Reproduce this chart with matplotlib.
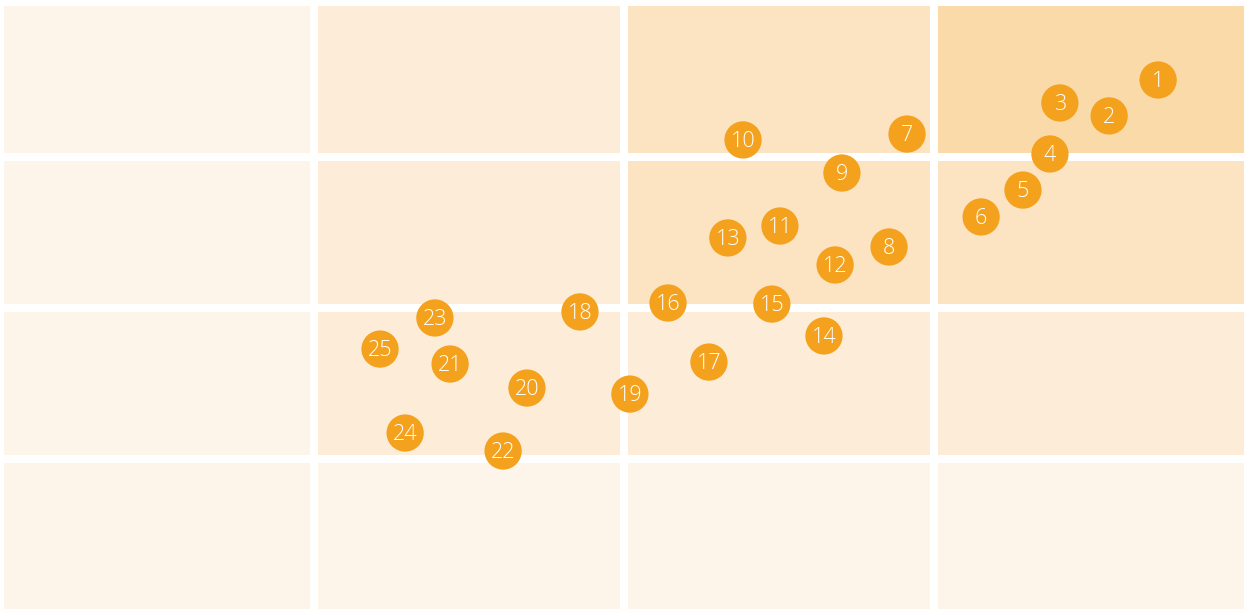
import matplotlib
matplotlib.use('Agg')
import matplotlib.pyplot as plt
from matplotlib.patches import Rectangle

# cell shade levels, top row first
levels = [[0, 1, 2, 3],
          [0, 1, 2, 2],
          [0, 1, 1, 1],
          [0, 0, 0, 0]]
shades = ['#fef5ea', '#fdecd8', '#fce3c2', '#fadaa8']

# points (x, y) in grid units, label = index
labels = list(range(1, 26))
xs = [3.723, 3.565, 3.406, 3.374, 3.287, 3.152, 2.913, 2.855, 2.703, 2.384,
      2.503, 2.681, 2.335, 2.645, 2.477, 2.142, 2.274, 1.858, 2.019, 1.687,
      1.439, 1.610, 1.390, 1.294, 1.213]
ys = [3.510, 3.272, 3.358, 3.020, 2.781, 2.603, 3.152, 2.404, 2.894, 3.113,
      2.543, 2.285, 2.464, 1.815, 2.026, 2.033, 1.642, 1.974, 1.430, 1.470,
      1.629, 1.053, 1.934, 1.172, 1.728]

fig = plt.figure(figsize=(12.44, 6.09), dpi=100)
ax = fig.add_axes([4 / 1244, -1 / 609, 1240 / 1244, 604 / 609])
ax.set_xlim(0, 4)
ax.set_ylim(0, 4)
ax.axis('off')

gx = 4 / 310
gy = 4 / 151
for r in range(4):
    for c in range(4):
        y0 = 3 - r
        # inner gaps only, outer edges flush
        left = c + (gx if c > 0 else 0)
        right = c + 1 - (gx if c < 3 else 0)
        bottom = y0 + (gy if y0 > 0 else 0)
        top = y0 + 1 - (gy if y0 < 3 else 0)
        ax.add_patch(Rectangle((left, bottom), right - left, top - bottom,
                               facecolor=shades[levels[r][c]], edgecolor='none',
                               clip_on=False))

ax.scatter(xs, ys, s=720, color='#f4a21d', edgecolors='none', zorder=3, clip_on=False)
for x, y, t in zip(xs, ys, labels):
    ax.text(x, y - 0.01, str(t), ha='center', va='center', color='white',
            fontsize=15.5, family='Open Sans', weight='light', zorder=4)

fig.savefig('out.png', dpi=100)
